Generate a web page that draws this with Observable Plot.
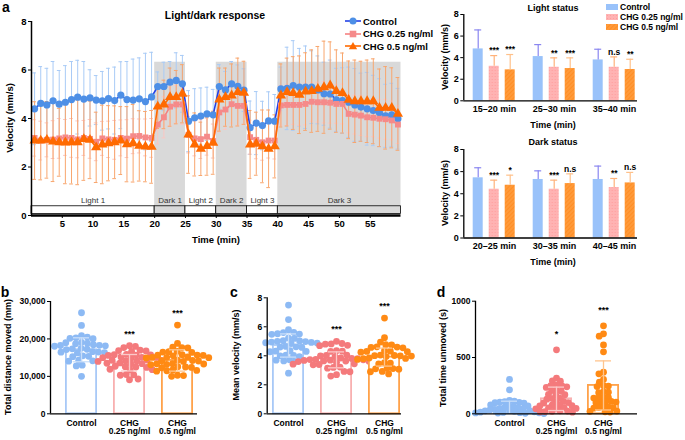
<!DOCTYPE html>
<html><head><meta charset="utf-8">
<script src="https://cdn.jsdelivr.net/npm/d3@7"></script>
<script src="https://cdn.jsdelivr.net/npm/@observablehq/plot@0.6"></script>
<style>
body{margin:0;background:#fff;}
#fig{position:relative;width:685px;height:440px;font-family:"Liberation Sans",Arial,sans-serif;overflow:hidden;background:#fff}
.t{position:absolute;font-weight:bold;white-space:nowrap;color:#000;line-height:1}
</style></head><body>
<svg width="0" height="0" style="position:absolute">
<defs>
<pattern id="pPink" width="3" height="3" patternUnits="userSpaceOnUse"><rect width="3" height="3" fill="#ffb3b3"/><circle cx="1.5" cy="1.5" r="0.6" fill="#ff9a9a"/></pattern>
<pattern id="pOrange" width="3" height="3" patternUnits="userSpaceOnUse" patternTransform="rotate(45)"><rect width="3" height="3" fill="#ff9a3a"/><line x1="0" y1="0" x2="0" y2="3" stroke="#ff8210" stroke-width="1"/></pattern>
</defs></svg>
<div id="fig"></div>
<script>
// ---------------- DATA ----------------
const seriesNames = ["Control", "CHG 0.25 ng/ml", "CHG 0.5 ng/ml"];
const minutes = [1,2,3,4,5,6,7,8,9,10,11,12,13,14,15,16,17,18,19,20,21,22,23,24,25,26,27,28,29,30,31,32,33,34,35,36,37,38,39,40,41,42,43,44,45,46,47,48,49,50,51,52,53,54,55,56,57,58,59,60];
const ctrlMean = [4.40,4.62,4.56,4.73,4.59,4.67,4.78,4.88,4.80,4.85,4.76,4.73,4.82,4.74,4.96,4.78,4.76,4.81,4.70,4.89, 5.32,5.32,5.50,5.57,5.43, 3.89,4.03,4.10,4.19,4.15, 5.32,5.18,5.43,5.33,5.17, 3.62,3.81,3.71,3.90,3.89, 5.22,5.24,5.36,5.29,5.29,5.29,5.18,5.02,5.01,4.77,4.74,4.67,4.56,4.47,4.40,4.33,4.24,4.11,4.15,3.99];
const ctrlSD = [1.48,1.52,1.51,1.62,1.39,1.51,1.57,1.52,1.55,1.16,1.01,1.21,1.25,1.38,1.38,1.57,1.69,1.69,1.99,1.84, 0.60,1.00,0.85,1.14,1.17, 1.26,1.20,1.16,1.10,1.05, 0.90,0.76,0.92,0.88,0.88, 1.10,1.30,1.00,1.20,1.10, 0.90,1.70,1.85,1.60,1.70,1.50,1.40,1.30,1.40,1.30,1.35,1.45,1.50,1.40,1.50,1.45,1.40,1.30,1.30,1.25];
const pinkMean = [3.20,3.09,3.12,3.13,3.18,3.22,3.20,3.14,3.20,3.16,3.04,3.18,3.14,3.12,3.20,3.17,3.27,3.28,3.22,3.20, 3.75,4.05,4.49,4.58,4.58, 3.33,3.18,3.15,3.25,3.07, 4.25,4.37,4.59,4.52,4.52, 3.23,3.12,3.02,3.09,3.09, 4.54,4.56,4.56,4.56,4.60,4.69,4.67,4.67,4.65,4.60,4.60,4.19,4.16,4.12,4.05,4.03,3.99,3.97,3.92,3.75];
const pinkSD = [0.75,0.80,0.70,0.78,0.82,0.74,0.80,0.76,0.72,0.80,0.78,0.70,0.75,0.80,0.74,0.78,0.72,0.70,0.76,0.80, 0.80,0.85,0.80,0.78,0.82, 0.75,0.72,0.80,0.76,0.70, 0.80,0.82,0.78,0.80,0.76, 0.70,0.78,0.74,0.72,0.76, 0.82,0.85,0.80,0.84,0.86,0.80,0.82,0.85,0.84,0.80,0.82,0.78,0.80,0.82,0.80,0.78,0.80,0.82,0.80,0.78];
const orangeMean = [3.09,3.09,3.12,3.05,3.02,3.01,3.02,3.02,3.15,3.12,2.81,2.93,2.98,3.02,3.09,2.94,2.98,2.87,2.84,2.83, 4.49,4.58,4.88,4.88,5.02, 3.34,2.93,2.75,2.86,3.00, 4.78,4.88,4.95,5.09,5.06, 2.93,2.96,2.85,2.75,2.85, 4.95,5.09,5.05,4.98,5.11,5.13,5.22,5.29,5.36,5.13,5.05,4.77,4.71,4.71,4.71,4.71,4.44,4.44,4.44,4.19];
const orangeSD = [1.60,1.62,1.58,1.65,1.40,1.70,1.72,1.75,1.70,1.60,1.45,1.62,1.55,1.50,1.40,1.55,1.60,1.45,1.45,1.50, 0.90,1.00,1.20,1.10,1.20, 1.60,1.30,1.10,1.20,1.30, 1.30,1.20,1.30,1.40,1.30, 1.40,1.30,1.50,1.60,1.30, 1.30,1.40,1.50,1.60,1.60,1.70,1.75,1.90,1.80,1.70,1.65,1.60,1.70,1.65,1.70,1.75,1.60,1.70,1.65,1.50];
const segLabels = ["Light 1","Dark 1","Light 2","Dark 2","Light 3","Dark 3"];
const segStart = [0,20,25,30,35,40];
const segEnd = [20,25,30,35,40,60];
const segDark = [false,true,false,true,false,true];
const xTicksA = [5,10,15,20,25,30,35,40,45,50,55];
const yTicksA = [0,2,4,6,8];

const lightTimes = ["15–20 min","25–30 min","35–40 min"];
const lightMeans = [[4.81,4.10,3.79],[3.20,3.11,3.11],[2.87,2.99,2.90]];
const lightSDs = [[1.76,1.11,0.99],[0.99,0.87,0.96],[1.42,0.99,0.95]];
const lightSig = [["","",""],["***","**","n.s"],["***","***","**"]];
const darkTimes = ["20–25 min","30–35 min","40–45 min"];
const darkMeans = [[5.44,5.29,5.29],[4.41,4.41,4.56],[4.77,4.92,4.98]];
const darkSDs = [[0.91,0.78,1.21],[0.82,0.82,0.82],[0.91,0.88,0.95]];
const darkSig = [["","",""],["***","***","**"],["*","n.s","n.s"]];

const groups = ["Control","CHG 0.25","CHG 0.5"];
const groupLabels = ["Control","CHG\n0.25 ng/ml","CHG\n0.5 ng/ml"];
const distCtrl = [27000,23600,20900,20500,20300,20150,20050,19100,19000,18850,18700,18450,18300,18150,18250,18050,17500,17350,17250,17150,16600,16450,16350,16250,16500,15500,15350,15250,14300,14150,14050,13000,12800,10000];
const distPink = [18200,18000,17700,17000,16900,16800,16700,15800,15700,15900,15600,15750,15100,15000,15200,14900,15050,14300,14200,14100,14350,14000,14250,13500,13400,13600,13300,12600,12500,12700,12400,11800,11700,11900,10400,10300,10500,9300,9100];
const distOrange = [23700,18800,17800,17700,17600,16700,16600,16500,16400,15700,15800,15600,15650,15500,15100,15000,15200,14900,15050,14200,14300,14100,14000,14250,13300,13400,13200,13350,13100,12500,12400,12600,12300,11600,11500,11700,11400,10300,10200,10000];
const distMean = [17100,13640,14250];
const distSD = [3200,2200,2850];
const distSig = ["","***","***"];
const velCtrl = [7.5,6.5,5.8,5.6,5.62,5.5,5.52,5.48,5.2,5.22,5.0,5.02,4.98,4.95,5.04,4.9,4.88,4.85,4.92,4.6,4.62,4.65,4.58,4.3,4.32,4.35,4.28,4.0,4.02,4.05,3.95,3.7,3.72,3.65,3.6,2.8];
const velPink = [5.0,4.85,4.8,4.82,4.7,4.72,4.3,4.32,4.35,4.0,4.02,4.05,3.95,3.8,3.82,3.85,3.75,3.7,3.72,3.65,3.68,3.74,3.6,3.62,3.55,3.58,3.64,3.4,3.42,3.45,3.38,3.2,3.22,3.15,2.9,2.92,2.7,2.6];
const velOrange = [6.6,5.25,4.95,4.75,4.77,4.6,4.62,4.58,4.55,4.3,4.32,4.28,4.35,4.25,4.0,4.02,3.98,4.05,3.95,4.01,3.8,3.82,3.85,3.75,3.5,3.52,3.45,3.1,3.12,3.08,3.15,2.9,2.92,2.75];
const velMean = [4.71,3.72,3.91];
const velSD = [0.80,0.55,0.62];
const velSig = ["","***","***"];
const unmCtrl = [305,213,112,108,118,104,98,95,102,78,74,70,66,52,48,55,44,40,30,34,26,22,28,18,12,9,6,10,14,4,8,2];
const unmPink = [568,317,293,290,255,248,251,240,234,206,200,210,172,166,170,135,130,138,106,100,110,96,76,70,80,72,52,48,55,44,50,24,18,26,20,14,22];
const unmOrange = [781,710,689,612,550,370,355,305,281,250,242,246,195,188,192,148,142,146,140,108,100,104,110,98,60,54,58,50,56,24,18,22,16];
const unmMean = [50,133,252];
const unmSD = [62,104,218];
const unmSig = ["","*","***"];

// ---------------- STYLE ----------------
const FONT = '"Liberation Sans", Arial, sans-serif';
const SHADE_TOP = 6.32;
const lineStyles = [
  {line:"#2241e8", fill:"#4d8fe6", err:"#a9cbf6", symbol:"circle", r:3.6},
  {line:"#f58080", fill:"#f58a8a", err:"#fbc6c3", symbol:"square", r:3.3},
  {line:"#ff6a00", fill:"#ff6a00", err:"#f8a66e", symbol:"triangle", r:3.8}
];
const barStyles = [
  {fill:"#99c2fa", err:"#8a86f0"},
  {fill:"url(#pPink)", err:"#ffb27a"},
  {fill:"url(#pOrange)", err:"#ffc08a"}
];
const swarmStyles = [
  {dot:"#8dbaf4", bar:"#a8c9f7", err:"#c9def9"},
  {dot:"#f47a7c", bar:"#f8b0b0", err:"#fbc9c9"},
  {dot:"#ff8a14", bar:"#ffa24a", err:"#ffc58e"}
];
const fig = document.getElementById("fig");
function place(node, left, top) {
  node.style.position = "absolute"; node.style.left = left + "px"; node.style.top = top + "px";
  fig.appendChild(node); return node;
}
function label(text, x, y, size = 9, rotate = false, weight = "bold") {
  const d = document.createElement("div");
  d.className = "t"; d.textContent = text;
  d.style.left = x + "px"; d.style.top = y + "px"; d.style.fontSize = size + "px"; d.style.fontWeight = weight;
  d.style.transform = rotate ? "translate(-50%,-50%) rotate(-90deg)" : "translate(-50%,-50%)";
  fig.appendChild(d);
}
const baseStyle = (fs) => ({fontFamily: FONT, fontSize: fs + "px", fontWeight: "bold", background: "transparent", color: "#000", overflow: "visible"});

// ---------------- PANEL a (line chart) ----------------
{
  const means = [ctrlMean, pinkMean, orangeMean];
  const sds = [ctrlSD, pinkSD, orangeSD];
  const segs = segLabels.map((l, i) => ({label: l, start: segStart[i], end: segEnd[i], dark: segDark[i]}));
  const marks = [
    Plot.rect(segs.filter(d => d.dark), {x1: "start", x2: "end", y1: () => 0.38, y2: () => SHADE_TOP, fill: "#d9d9d9"})
  ];
  const rowsBy = means.map((m, k) => minutes.map((t, i) => ({t: t - 0.5, mean: m[i], sd: sds[k][i]})));
  rowsBy.forEach((rows, k) => {
    const st = lineStyles[k];
    marks.push(Plot.ruleX(rows, {x: "t", y1: d => d.mean - d.sd, y2: d => d.mean + d.sd, stroke: st.err, strokeWidth: 1}));
    marks.push(Plot.ruleY(rows, {y: d => d.mean + d.sd, x1: d => d.t - 0.3, x2: d => d.t + 0.3, stroke: st.err, strokeWidth: 1}));
    marks.push(Plot.ruleY(rows, {y: d => d.mean - d.sd, x1: d => d.t - 0.3, x2: d => d.t + 0.3, stroke: st.err, strokeWidth: 1}));
  });
  rowsBy.forEach((rows, k) => {
    const st = lineStyles[k];
    marks.push(Plot.line(rows, {x: "t", y: "mean", stroke: st.line, strokeWidth: 1.6}));
    marks.push(Plot.dot(rows, {x: "t", y: "mean", fill: st.fill, stroke: "none", symbol: st.symbol, r: st.r}));
  });
  marks.push(Plot.rect(segs, {x1: "start", x2: "end", y1: () => 0.06, y2: () => 0.38, fill: d => d.dark ? "#d9d9d9" : "white", stroke: "#000", strokeWidth: 0.8}));
  marks.push(Plot.text(segs, {x: d => (d.start + d.end) / 2, y: () => 0.63, text: "label", fontWeight: "normal", fontSize: 8, fill: "#333"}));
  marks.push(Plot.ruleX([0], {stroke: "#000", strokeWidth: 1.5}));
  marks.push(Plot.ruleY([0], {stroke: "#000", strokeWidth: 2.5}));
  const p = Plot.plot({
    width: 415, height: 250, marginLeft: 31, marginRight: 14.5, marginTop: 21, marginBottom: 35,
    style: baseStyle(9.5),
    x: {domain: [0, 60], ticks: xTicksA, tickSize: 3, tickPadding: 2, label: null},
    y: {domain: [0, 8], ticks: yTicksA, tickSize: 3, tickPadding: 2, label: null},
    marks
  });
  place(p, 0, 0);
  const lg = document.createElement("div");
  const sym = (st) => st.symbol === "circle" ? `<circle cx="8" cy="5" r="3.5" fill="${st.fill}"/>`
    : st.symbol === "square" ? `<rect x="4.7" y="1.7" width="6.6" height="6.6" fill="${st.fill}"/>`
    : `<polygon points="8,1 12.2,8.3 3.8,8.3" fill="${st.fill}"/>`;
  lg.innerHTML = seriesNames.map((n, k) => `<div style="display:flex;align-items:center;height:12px;margin-bottom:0.5px;white-space:nowrap">
    <svg width="16" height="10"><line x1="0" y1="5" x2="16" y2="5" stroke="${lineStyles[k].line}" stroke-width="1.6"/>${sym(lineStyles[k])}</svg>
    <span style="font-weight:bold;font-size:9.5px;margin-left:2px">${n}</span></div>`).join("");
  place(lg, 345, 15);
  label("Light/dark response", 215, 15, 10.5);
  label("Velocity (mm/s)", 10, 118, 9.5, true);
  label("Time (min)", 216, 240, 9.5);
  label("a", 6, 7, 14);
}

// ---------------- PANEL a right (Light / Dark status) ----------------
function statusPanel(top, times, meanArr, sdArr, sigArr, mT, mB, H) {
  const W = 235, left = 415, mL = 48.3, mR = 5.7, axisEnd = 637;
  const marks = [];
  seriesNames.forEach((s, k) => {
    const rows = times.map((t, i) => ({time: t, series: s, mean: meanArr[k][i], sd: sdArr[k][i], sig: sigArr[k][i]}));
    const st = barStyles[k];
    marks.push(Plot.barY(rows, {fx: "time", x: "series", y: "mean", fill: st.fill}));
    marks.push(Plot.ruleX(rows, {fx: "time", x: "series", y1: "mean", y2: d => d.mean + d.sd, stroke: st.err, strokeWidth: 1.2}));
    marks.push(Plot.tickY(rows, {fx: "time", x: "series", y: d => d.mean + d.sd, stroke: st.err, strokeWidth: 1.2, insetLeft: 1.5, insetRight: 1.5}));
    marks.push(Plot.text(rows.filter(d => d.sig), {fx: "time", x: "series", y: d => d.mean + d.sd, text: "sig", dy: -5, fontSize: 8.5}));
  });
  const p = Plot.plot({
    width: W, height: H, marginLeft: mL, marginRight: mR, marginTop: mT, marginBottom: mB,
    style: baseStyle(9),
    fx: {domain: times, padding: 0, label: null, tickSize: 0, tickPadding: 5, axis: "bottom"},
    x: {domain: seriesNames, axis: null, paddingInner: 0.368, paddingOuter: 0.534},
    y: {domain: [0, 8], axis: null},
    marks
  });
  place(p, left, top);
  const ov = Plot.plot({
    width: W, height: H, marginLeft: mL, marginRight: W - (axisEnd - left), marginTop: mT, marginBottom: mB,
    style: baseStyle(9),
    x: {domain: [0, 1], axis: null},
    y: {domain: [0, 8], ticks: yTicksA, tickSize: 3, tickPadding: 2, label: null},
    marks: [Plot.ruleX([0], {strokeWidth: 1.3}), Plot.ruleY([0], {strokeWidth: 1.3})]
  });
  place(ov, left, top);
}
statusPanel(0, lightTimes, lightMeans, lightSDs, lightSig, 14, 29.7, 130);
statusPanel(135, darkTimes, darkMeans, darkSDs, darkSig, 14, 27.5, 130);
label("Light status", 553, 8, 9);
label("Dark status", 553, 142, 9);
label("Time (min)", 553, 125, 9);
label("Time (min)", 553, 262, 9);
label("Velocity (mm/s)", 445, 57, 9, true);
label("Velocity (mm/s)", 445, 193, 9, true);
{
  const lg = document.createElement("div");
  lg.style.width = "78px";
  lg.innerHTML = seriesNames.map((n, k) => `<div style="display:flex;align-items:center;height:10px;white-space:nowrap">
    <svg width="12" height="6" style="flex:none"><rect width="12" height="6" fill="${barStyles[k].fill}"/></svg>
    <span style="font-weight:bold;font-size:8.5px;margin-left:2px">${n}</span></div>`).join("");
  place(lg, 606, 2);
}

// ---------------- PANELS b, c, d (swarm bars) ----------------
// simple deterministic beeswarm: horizontal pixel offsets for each value
function beeswarm(vals, pxPerUnit, D) {
  const pts = vals.map(v => ({v, y: v * pxPerUnit, x: 0})).sort((a, b) => b.v - a.v);
  const placed = [];
  let flip = 1;
  for (const p of pts) {
    const cands = [0];
    for (const q of placed) {
      const dy = Math.abs(p.y - q.y);
      if (dy < D) { const dx = Math.sqrt(D * D - dy * dy); cands.push(q.x - dx, q.x + dx); }
    }
    cands.sort((a, b) => (Math.abs(a) - Math.abs(b)) || (a - b) * flip);
    for (const c of cands) {
      if (placed.every(q => (c - q.x) ** 2 + (p.y - q.y) ** 2 >= D * D - 1e-6)) { p.x = c; break; }
    }
    flip = -flip;
    placed.push(p);
  }
  return pts;
}
function swarm(cfg) {
  const {left, top, width, height, mL, mR, mT, mB, axisEnd, yMax, yTicks, yFmt, fxPI, fxPO, values, means, sds, sig, starDy, r, D} = cfg;
  const R = width - mL - mR;
  const bw = R / (3 - fxPI + 2 * fxPO) * (1 - fxPI);
  const pxPerUnit = (height - mT - mB) / yMax;
  const marks = [];
  groups.forEach((g, i) => {
    const st = swarmStyles[i];
    const row = [{g, m: means[i], s: sds[i], top: d3.max(values[i]), sig: sig[i]}];
    const pts = beeswarm(values[i], pxPerUnit, D).map(p => ({g, v: p.v, off: p.x / bw}));
    marks.push(Plot.rect(row, {fx: "g", x1: () => -0.5, x2: () => 0.5, y1: () => 0, y2: "m", fill: "white", stroke: st.bar, strokeWidth: 1.8, insetLeft: 0.9, insetRight: 0.9}));
    marks.push(Plot.dot(pts, {fx: "g", x: "off", y: "v", r, fill: st.dot, stroke: "none"}));
    marks.push(Plot.ruleX(row, {fx: "g", x: () => 0, y1: d => Math.max(0, d.m - d.s), y2: d => d.m + d.s, stroke: st.err, strokeWidth: 1.3}));
    marks.push(Plot.ruleY(row, {fx: "g", x1: () => -0.25, x2: () => 0.25, y: d => d.m + d.s, stroke: st.err, strokeWidth: 1.3}));
    marks.push(Plot.ruleY(row.filter(d => d.m - d.s > 0), {fx: "g", x1: () => -0.25, x2: () => 0.25, y: d => d.m - d.s, stroke: st.err, strokeWidth: 1.3}));
    marks.push(Plot.text(row.filter(d => d.sig), {fx: "g", x: () => 0, y: "top", text: "sig", dy: starDy, fontSize: 9}));
  });
  const p = Plot.plot({
    width, height, marginLeft: mL, marginRight: mR, marginTop: mT, marginBottom: mB,
    style: baseStyle(8.5),
    fx: {domain: groups, paddingInner: fxPI, paddingOuter: fxPO, tickFormat: (d) => groupLabels[groups.indexOf(d)], label: null, tickSize: 0, tickPadding: 6, axis: "bottom"},
    x: {domain: [-0.5, 0.5], axis: null},
    y: {domain: [0, yMax], axis: null},
    marks
  });
  place(p, left, top);
  const ov = Plot.plot({
    width, height, marginLeft: mL, marginRight: width - (axisEnd - left), marginTop: mT, marginBottom: mB,
    style: baseStyle(8.5),
    x: {domain: [0, 1], axis: null},
    y: {domain: [0, yMax], ticks: yTicks, tickFormat: yFmt, tickSize: 3, tickPadding: 2, label: null},
    marks: [Plot.ruleX([0], {strokeWidth: 1.3}), Plot.ruleY([0], {strokeWidth: 1.3})]
  });
  place(ov, left, top);
}
swarm({left: 0, top: 290, width: 215, height: 150, mL: 50, mR: 6.9, mT: 11, mB: 26.7, axisEnd: 197,
  yMax: 30000, yTicks: [0, 10000, 20000, 30000], yFmt: d3.format(","), fxPI: 0.333, fxPO: 0.313,
  values: [distCtrl, distPink, distOrange], means: distMean, sds: distSD, sig: distSig, starDy: -12, r: 3.4, D: 6});
swarm({left: 230, top: 290, width: 215, height: 150, mL: 36.7, mR: 40.3, mT: 7.3, mB: 26.7, axisEnd: 401,
  yMax: 8, yTicks: [0, 2, 4, 6, 8], yFmt: d3.format("d"), fxPI: 0.329, fxPO: 0.081,
  values: [velCtrl, velPink, velOrange], means: velMean, sds: velSD, sig: velSig, starDy: -12, r: 3.4, D: 6});
swarm({left: 440, top: 290, width: 245, height: 150, mL: 35, mR: 48, mT: 10.7, mB: 26.7, axisEnd: 637,
  yMax: 1000, yTicks: [0, 500, 1000], yFmt: d3.format("d"), fxPI: 0.314, fxPO: 0.355,
  values: [unmCtrl, unmPink, unmOrange], means: unmMean, sds: unmSD, sig: unmSig, starDy: -16, r: 3.4, D: 5});
label("Total distance moved (mm)", 8, 357, 9, true);
label("Mean velocity (mm/s)", 236, 355, 9, true);
label("Total time unmoved (s)", 443, 358, 9, true);
label("b", 5, 292, 14);
label("c", 234, 292, 14);
label("d", 441, 292, 14);
</script></body></html>
